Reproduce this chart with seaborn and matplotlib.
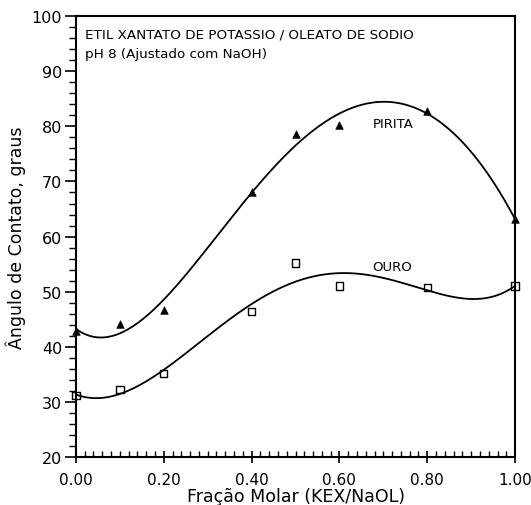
import numpy as np
import pandas as pd
import matplotlib
matplotlib.use("Agg")
import matplotlib.pyplot as plt
import matplotlib.transforms as mtransforms
import seaborn as sns
from matplotlib.ticker import MultipleLocator, FormatStrFormatter

sns.set_theme(style="white")
plt.rcParams['font.family'] = ['DejaVu Sans']
plt.rcParams['text.color'] = 'black'
plt.rcParams['axes.labelcolor'] = 'black'

fracao = [0.0, 0.1, 0.2, 0.4, 0.5, 0.6, 0.8, 1.0]
pirita = [42.8, 44.1, 46.7, 68.1, 78.6, 80.3, 82.8, 63.1]
ouro = [31.1, 32.2, 35.2, 46.4, 55.2, 51.0, 50.7, 51.0]

df = pd.DataFrame({"x": fracao, "pirita": pirita, "ouro": ouro})

fig = plt.figure(figsize=(5.31, 5.06), dpi=100)
ax = fig.add_axes([0.143, 0.095, 0.827, 0.871])

xs = np.linspace(0, 1, 300)
for col, deg in (("pirita", 5), ("ouro", 5)):
    coef = np.polyfit(df["x"], df[col], deg)
    fit = pd.DataFrame({"x": xs, "y": np.polyval(coef, xs)})
    sns.lineplot(data=fit, x="x", y="y", ax=ax, color="black", lw=1.3, zorder=2)

sns.scatterplot(data=df, x="x", y="pirita", ax=ax, marker="^", s=30,
                color="black", edgecolor="black", zorder=3, clip_on=False)
sns.scatterplot(data=df, x="x", y="ouro", ax=ax, marker="s", s=28,
                facecolor="none", edgecolor="black", linewidth=1.0, zorder=3, clip_on=False)

ax.set_xlim(0, 1)
ax.set_ylim(20, 100)
ax.xaxis.set_major_locator(MultipleLocator(0.2))
ax.xaxis.set_minor_locator(MultipleLocator(0.02))
ax.yaxis.set_major_locator(MultipleLocator(10))
ax.yaxis.set_minor_locator(MultipleLocator(2))
ax.xaxis.set_major_formatter(FormatStrFormatter("%.2f"))
ax.tick_params(axis="x", which="major", direction="inout", length=9, width=1.2,
               labelsize=11, colors="black", pad=6)
ax.tick_params(axis="x", which="minor", direction="in", length=4.5, width=1.0, colors="black")
ax.tick_params(axis="y", which="major", direction="out", length=8, width=1.2,
               labelsize=11.5, colors="black", pad=2)
ax.tick_params(axis="y", which="minor", direction="out", length=5, width=1.0, colors="black")
ax.tick_params(axis="both", which="both", bottom=True, left=True, top=False, right=False)
for sp in ax.spines.values():
    sp.set_color("black")
    sp.set_linewidth(1.5)

ax.set_xlabel("Fração Molar (KEX/NaOL)", fontsize=12.5, labelpad=0)
ax.set_ylabel("Ângulo de Contato, graus", fontsize=12.5, labelpad=4)

fig.canvas.draw()
last = ax.get_xticklabels()[-1]
last.set_transform(last.get_transform() + mtransforms.ScaledTranslation(-3 / 100, 0, fig.dpi_scale_trans))

ax.text(0.02, 0.975, "ETIL XANTATO DE POTASSIO / OLEATO DE SODIO", transform=ax.transAxes,
        fontsize=9.7, va="top", ha="left")
ax.text(0.02, 0.93, "pH 8 (Ajustado com NaOH)", transform=ax.transAxes,
        fontsize=9.7, va="top", ha="left")
ax.text(0.675, 80.6, "PIRITA", fontsize=9.5, va="center", ha="left")
ax.text(0.675, 54.6, "OURO", fontsize=9.5, va="center", ha="left")

fig.savefig("out.png", dpi=100)
